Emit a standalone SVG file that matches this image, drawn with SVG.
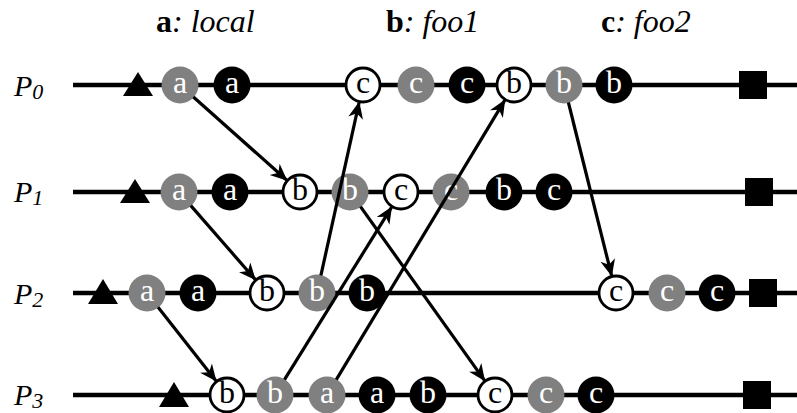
<svg xmlns="http://www.w3.org/2000/svg" width="797" height="413" viewBox="0 0 797 413">
  <style>
    .tl { stroke: #000; stroke-width: 4.5; fill: none; }
    .msg { stroke: #000; stroke-width: 3.2; fill: none; marker-end: url(#arr); }
    .g { fill: #808080; }
    .k { fill: #000; }
    .w { fill: #fff; stroke: #000; stroke-width: 2.8; }
    .end { fill: #000; }
    .lw { font-family: "Liberation Serif", serif; font-size: 32px; fill: #fff; text-anchor: middle; }
    .lk { font-family: "Liberation Serif", serif; font-size: 32px; fill: #000; text-anchor: middle; }
    .pl { font-family: "Liberation Serif", serif; font-style: italic; font-size: 30px; fill: #000; }
    .sub { font-size: 22px; }
    .hd { font-family: "Liberation Serif", serif; font-size: 32px; fill: #000; }
  </style>
  <defs>
    <marker id="arr" markerUnits="userSpaceOnUse" markerWidth="22" markerHeight="18" viewBox="-18 -9 20 18" refX="0" refY="0" orient="auto">
      <path d="M1,0 L-16,-7.5 L-11,0 L-16,7.5 z" fill="#000"/>
    </marker>
  </defs>

  <!-- column headings -->
  <g id="headings">
    <text class="hd" x="156" y="32"><tspan font-weight="bold">a</tspan><tspan font-style="italic">: local</tspan></text>
    <text class="hd" x="386" y="32"><tspan font-weight="bold">b</tspan><tspan font-style="italic">: foo1</tspan></text>
    <text class="hd" x="601" y="32"><tspan font-weight="bold">c</tspan><tspan font-style="italic">: foo2</tspan></text>
  </g>

  <!-- process labels -->
  <g id="labels">
    <text class="pl" x="14" y="96">P<tspan class="sub" dy="3">0</tspan></text>
    <text class="pl" x="14" y="202">P<tspan class="sub" dy="3">1</tspan></text>
    <text class="pl" x="14" y="304">P<tspan class="sub" dy="3">2</tspan></text>
    <text class="pl" x="14" y="405">P<tspan class="sub" dy="3">3</tspan></text>
  </g>

  <!-- time lines -->
  <g id="timelines">
    <line class="tl" x1="73" y1="85" x2="797" y2="85"/>
    <line class="tl" x1="73" y1="192" x2="797" y2="192"/>
    <line class="tl" x1="73" y1="293" x2="797" y2="293"/>
    <line class="tl" x1="73" y1="395" x2="797" y2="395"/>
  </g>

  <!-- P0 -->
  <g id="p0">
    <polygon class="end" points="123,96 138,72 153,96"/>
    <g id="p0-a1"><circle class="g" cx="180" cy="85" r="18.5"/><text class="lw" x="180" y="93">a</text></g>
    <g id="p0-a2"><circle class="k" cx="232" cy="85" r="18.5"/><text class="lw" x="232" y="93">a</text></g>
    <g id="p0-c1"><circle class="w" cx="363" cy="85" r="17"/><text class="lk" x="363" y="93">c</text></g>
    <g id="p0-c2"><circle class="g" cx="416" cy="85" r="18.5"/><text class="lw" x="416" y="93">c</text></g>
    <g id="p0-c3"><circle class="k" cx="467" cy="85" r="18.5"/><text class="lw" x="467" y="93">c</text></g>
    <g id="p0-b1"><circle class="w" cx="514" cy="85" r="17"/><text class="lk" x="514" y="93">b</text></g>
    <g id="p0-b2"><circle class="g" cx="564" cy="85" r="18.5"/><text class="lw" x="564" y="93">b</text></g>
    <g id="p0-b3"><circle class="k" cx="614" cy="85" r="18.5"/><text class="lw" x="614" y="93">b</text></g>
    <rect class="end" x="739" y="71" width="28" height="28"/>
  </g>

  <!-- P1 -->
  <g id="p1">
    <polygon class="end" points="120,203 135,179 150,203"/>
    <g id="p1-a1"><circle class="g" cx="179" cy="192" r="18.5"/><text class="lw" x="179" y="200">a</text></g>
    <g id="p1-a2"><circle class="k" cx="230" cy="192" r="18.5"/><text class="lw" x="230" y="200">a</text></g>
    <g id="p1-b1"><circle class="w" cx="300" cy="192" r="17"/><text class="lk" x="300" y="200">b</text></g>
    <g id="p1-b2"><circle class="g" cx="350" cy="192" r="18.5"/><text class="lw" x="350" y="200">b</text></g>
    <g id="p1-c1"><circle class="w" cx="401" cy="192" r="17"/><text class="lk" x="401" y="200">c</text></g>
    <g id="p1-c2"><circle class="g" cx="451" cy="192" r="18.5"/><text class="lw" x="451" y="200">c</text></g>
    <g id="p1-b3"><circle class="k" cx="504" cy="192" r="18.5"/><text class="lw" x="504" y="200">b</text></g>
    <g id="p1-c3"><circle class="k" cx="554" cy="192" r="18.5"/><text class="lw" x="554" y="200">c</text></g>
    <rect class="end" x="745" y="178" width="28" height="28"/>
  </g>

  <!-- P2 -->
  <g id="p2">
    <polygon class="end" points="88,304 103,279 118,304"/>
    <g id="p2-a1"><circle class="g" cx="147" cy="293" r="18.5"/><text class="lw" x="147" y="301">a</text></g>
    <g id="p2-a2"><circle class="k" cx="198" cy="293" r="18.5"/><text class="lw" x="198" y="301">a</text></g>
    <g id="p2-b1"><circle class="w" cx="267" cy="293" r="17"/><text class="lk" x="267" y="301">b</text></g>
    <g id="p2-b2"><circle class="g" cx="317" cy="293" r="18.5"/><text class="lw" x="317" y="301">b</text></g>
    <g id="p2-b3"><circle class="k" cx="367" cy="293" r="18.5"/><text class="lw" x="367" y="301">b</text></g>
    <g id="p2-c1"><circle class="w" cx="616" cy="293" r="17"/><text class="lk" x="616" y="301">c</text></g>
    <g id="p2-c2"><circle class="g" cx="667" cy="293" r="18.5"/><text class="lw" x="667" y="301">c</text></g>
    <g id="p2-c3"><circle class="k" cx="717" cy="293" r="18.5"/><text class="lw" x="717" y="301">c</text></g>
    <rect class="end" x="749" y="279" width="28" height="28"/>
  </g>

  <!-- P3 -->
  <g id="p3">
    <polygon class="end" points="159,407 174,382 189,407"/>
    <g id="p3-b1"><circle class="w" cx="227" cy="395" r="17"/><text class="lk" x="227" y="403">b</text></g>
    <g id="p3-b2"><circle class="g" cx="275" cy="395" r="18.5"/><text class="lw" x="275" y="403">b</text></g>
    <g id="p3-a1"><circle class="g" cx="327" cy="395" r="18.5"/><text class="lw" x="327" y="403">a</text></g>
    <g id="p3-a2"><circle class="k" cx="377" cy="395" r="18.5"/><text class="lw" x="377" y="403">a</text></g>
    <g id="p3-b3"><circle class="k" cx="428" cy="395" r="18.5"/><text class="lw" x="428" y="403">b</text></g>
    <g id="p3-c1"><circle class="w" cx="495" cy="395" r="17"/><text class="lk" x="495" y="403">c</text></g>
    <g id="p3-c2"><circle class="g" cx="546" cy="395" r="18.5"/><text class="lw" x="546" y="403">c</text></g>
    <g id="p3-c3"><circle class="k" cx="596" cy="395" r="18.5"/><text class="lw" x="596" y="403">c</text></g>
    <rect class="end" x="743" y="381" width="28" height="28"/>
  </g>

  <!-- messages between processes -->
  <g id="connectors">
    <line class="msg" x1="193.4" y1="97" x2="286.6" y2="180"/>
    <line class="msg" x1="190.8" y1="205.6" x2="255.2" y2="279.4"/>
    <line class="msg" x1="158.1" y1="307.2" x2="215.9" y2="380.8"/>
    <line class="msg" x1="320.9" y1="275.4" x2="359.1" y2="102.6"/>
    <line class="msg" x1="284.5" y1="379.7" x2="391.5" y2="207.3"/>
    <line class="msg" x1="336.3" y1="379.6" x2="504.7" y2="100.4"/>
    <line class="msg" x1="360.5" y1="206.6" x2="484.5" y2="380.4"/>
    <line class="msg" x1="568.4" y1="102.5" x2="611.6" y2="275.5"/>
  </g>
</svg>
